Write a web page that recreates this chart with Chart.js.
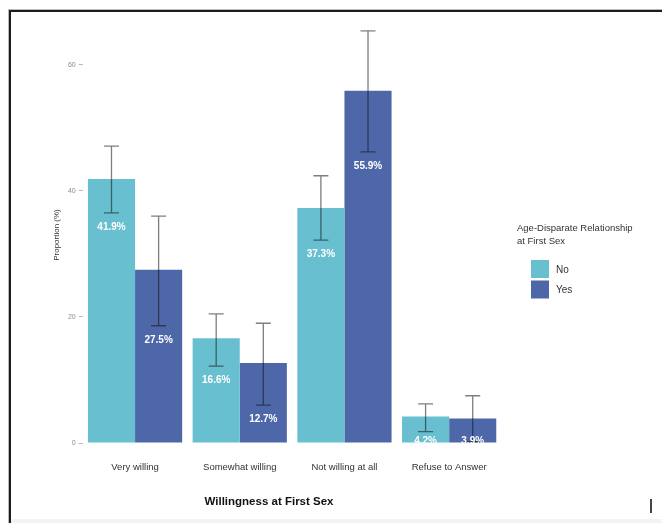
<!DOCTYPE html>
<html>
<head>
<meta charset="utf-8">
<script src="https://cdn.jsdelivr.net/npm/chart.js@4"></script>
<style>
    body { margin: 0; background: #fff; }
    #wrap { position: relative; width: 662px; height: 523px; overflow: hidden; }
    .frame { position: absolute; left: 9px; top: 10px; width: 700px; height: 600px;
             border-left: 2px solid #1c1c1c; border-top: 2px solid #1c1c1c;
             box-shadow: -1px -1px 0 #b8b8b8; }
    .strip { position: absolute; left: 11px; top: 519px; width: 662px; height: 4px; background: #f3f3f3; }
    .cursor { position: absolute; left: 650px; top: 499px; width: 1.5px; height: 14px; background: #444; }
    canvas { position: absolute; left: 0; top: 0; }
</style>
</head>
<body>
<div id="wrap">
    <div class="frame"></div>
    <div class="strip"></div>
    <div class="cursor"></div>
    <canvas id="chart" width="662" height="523"></canvas>
</div>
<script>
var categories = ["Very willing", "Somewhat willing", "Not willing at all", "Refuse to Answer"];
var seriesNames = ["No", "Yes"];
var noValues = [41.9, 16.6, 37.3, 4.2];
var yesValues = [27.5, 12.7, 55.9, 3.9];
var noLower = [36.5, 12.2, 32.2, 1.8];
var noUpper = [47.1, 20.5, 42.4, 6.2];
var yesLower = [18.6, 6.0, 46.2, 0.2];
var yesUpper = [36.0, 19.0, 65.4, 7.5];
var yTicks = [0, 20, 40, 60];

var errors = [
    { lower: noLower, upper: noUpper },
    { lower: yesLower, upper: yesUpper }
];

var FONT = "'Liberation Sans', Arial, sans-serif";

// error bars + value labels
var errorBars = {
    id: 'errorBars',
    afterDatasetsDraw: function (chart) {
        var ctx = chart.ctx;
        var yScale = chart.scales.y;
        var area = chart.chartArea;
        chart.data.datasets.forEach(function (ds, i) {
            var meta = chart.getDatasetMeta(i);
            meta.data.forEach(function (bar, j) {
                var x = bar.x;
                var yL = yScale.getPixelForValue(errors[i].lower[j]);
                var yU = yScale.getPixelForValue(errors[i].upper[j]);
                ctx.save();
                ctx.strokeStyle = 'rgba(20,20,20,0.55)';
                ctx.lineWidth = 1.3;
                ctx.beginPath();
                ctx.moveTo(x, yU); ctx.lineTo(x, yL);
                ctx.moveTo(x - 7.5, yU); ctx.lineTo(x + 7.5, yU);
                ctx.moveTo(x - 7.5, yL); ctx.lineTo(x + 7.5, yL);
                ctx.stroke();
                ctx.restore();

                // label sits a little under the lower bound
                var ly = yScale.getPixelForValue(Math.max(errors[i].lower[j] - 2.3, 0.3));
                ctx.save();
                ctx.beginPath();
                ctx.rect(area.left, area.top, area.right - area.left, area.bottom - area.top);
                ctx.clip();
                ctx.fillStyle = '#ffffff';
                ctx.font = 'bold 10px ' + FONT;
                ctx.textAlign = 'center';
                ctx.textBaseline = 'middle';
                ctx.fillText(ds.data[j].toFixed(1) + '%', x, ly);
                ctx.restore();
            });
        });
    }
};

// x title and legend drawn by hand
var extras = {
    id: 'extras',
    afterDraw: function (chart) {
        var ctx = chart.ctx;
        ctx.save();
        ctx.fillStyle = '#111';
        ctx.font = 'bold 11.5px ' + FONT;
        ctx.textAlign = 'center';
        ctx.textBaseline = 'middle';
        ctx.fillText('Willingness at First Sex', 269, 502);

        ctx.fillStyle = '#333';
        ctx.font = '9.5px ' + FONT;
        ctx.textAlign = 'left';
        ctx.fillText('Age-Disparate Relationship', 517, 228);
        ctx.fillText('at First Sex', 517, 241);

        chart.data.datasets.forEach(function (ds, i) {
            var top = 260 + i * 20.5;
            ctx.fillStyle = ds.backgroundColor;
            ctx.fillRect(531, top, 18, 18);
            ctx.fillStyle = '#333';
            ctx.font = '10px ' + FONT;
            ctx.fillText(ds.label, 556, top + 10);
        });
        ctx.restore();
    }
};

var chart = new Chart(document.getElementById('chart').getContext('2d'), {
    type: 'bar',
    data: {
        labels: categories,
        datasets: [{
            label: seriesNames[0],
            data: noValues,
            backgroundColor: 'rgb(104,191,208)'
        }, {
            label: seriesNames[1],
            data: yesValues,
            backgroundColor: 'rgb(78,103,168)'
        }]
    },
    options: {
        responsive: false,
        animation: false,
        layout: { padding: { top: 27, right: 160.5, left: 0, bottom: 0 } },
        datasets: { bar: { categoryPercentage: 0.9, barPercentage: 1.0 } },
        plugins: {
            legend: { display: false },
            title: { display: false },
            tooltip: { enabled: false }
        },
        scales: {
            x: {
                grid: { display: false, drawTicks: false },
                border: { display: false },
                ticks: { color: '#333', font: { family: FONT, size: 9.5 }, padding: 19, maxRotation: 0 },
                afterFit: function (scale) { scale.height = 80; }
            },
            y: {
                min: 0,
                max: 66,
                grid: { drawOnChartArea: false, tickLength: 4, color: '#aaa', tickWidth: 0.8 },
                border: { display: false },
                ticks: { color: '#8a8a8a', font: { family: FONT, size: 7 }, padding: 3 },
                afterBuildTicks: function (scale) {
                    scale.ticks = yTicks.map(function (v) { return { value: v }; });
                },
                title: {
                    display: true,
                    text: 'Proportion (%)',
                    color: '#333',
                    font: { family: FONT, size: 8 },
                    padding: { top: 52, bottom: 0 }
                },
                afterFit: function (scale) { scale.width = 82.7; }
            }
        }
    },
    plugins: [errorBars, extras]
});
</script>
</body>
</html>
